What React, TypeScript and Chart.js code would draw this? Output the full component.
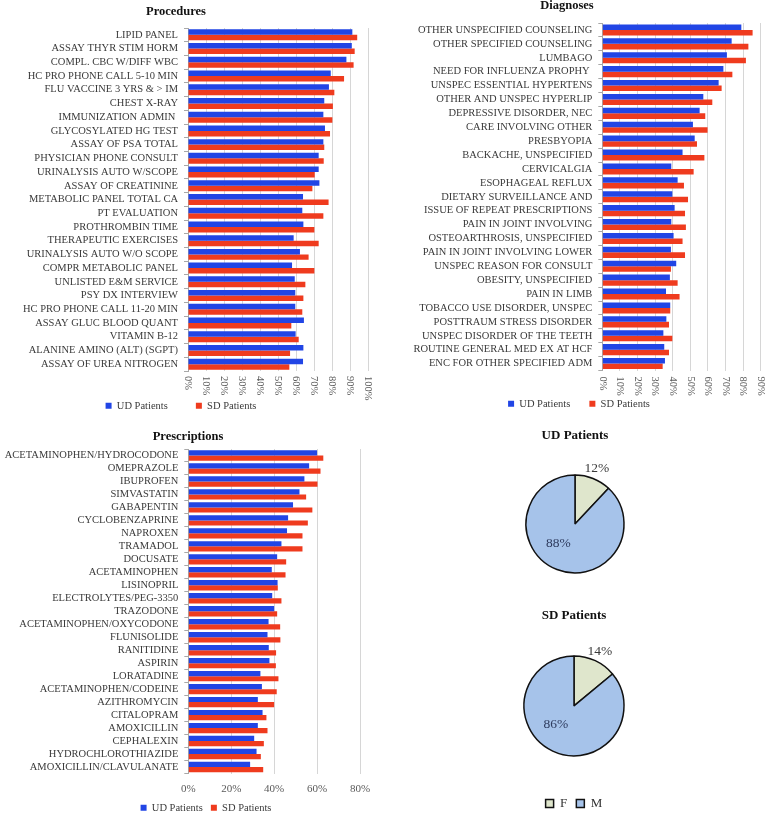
import React, { useEffect, useRef } from 'react';
import { Chart, registerables } from 'chart.js';

Chart.register(...registerables);

const FONT = "'Liberation Serif', 'Times New Roman', serif";
const UD_COLOR = '#2145e5';
const SD_COLOR = '#ef3b1e';
const GRID = '#d6d6d6';
const AXIS = '#a8a8a8';
const LABEL = '#3a3a3a';
const TICK = '#5a5a5a';

// ---------- Procedures ----------
const procCategories = [
  'LIPID PANEL', 'ASSAY THYR STIM HORM', 'COMPL. CBC W/DIFF WBC', 'HC PRO PHONE CALL 5-10 MIN',
  'FLU VACCINE 3 YRS & > IM', 'CHEST X-RAY', 'IMMUNIZATION ADMIN ', 'GLYCOSYLATED HG TEST',
  'ASSAY OF PSA TOTAL', 'PHYSICIAN PHONE CONSULT', 'URINALYSIS AUTO W/SCOPE', 'ASSAY OF CREATININE',
  'METABOLIC PANEL TOTAL CA', 'PT EVALUATION', 'PROTHROMBIN TIME', 'THERAPEUTIC EXERCISES',
  'URINALYSIS AUTO W/O SCOPE', 'COMPR METABOLIC PANEL', 'UNLISTED E&M SERVICE', 'PSY DX INTERVIEW',
  'HC PRO PHONE CALL 11-20 MIN', 'ASSAY GLUC BLOOD QUANT', 'VITAMIN B-12', 'ALANINE AMINO (ALT) (SGPT)',
  'ASSAY OF UREA NITROGEN',
];
const procUD = [91.3, 91, 88, 79.3, 78.3, 75.7, 75.2, 76.1, 75.2, 72.6, 72.6, 73, 63.9, 63.5, 64.1, 58.7, 62.2, 57.8, 59.3, 59.6, 59.6, 64.4, 59.8, 64.1, 63.9];
const procSD = [94, 92.6, 92, 86.7, 81.3, 80.5, 80.2, 78.9, 75.7, 75.4, 70.4, 69.1, 78.1, 75.2, 70.2, 72.6, 67, 70.2, 65.2, 64.1, 63.5, 57.4, 61.5, 56.7, 56.3];
const procAxisMax = 100;
const procAxisStep = 10;

// ---------- Diagnoses ----------
const diagCategories = [
  'OTHER UNSPECIFIED COUNSELING', 'OTHER SPECIFIED COUNSELING', 'LUMBAGO', 'NEED FOR INFLUENZA PROPHY ',
  'UNSPEC ESSENTIAL HYPERTENS', 'OTHER AND UNSPEC HYPERLIP', 'DEPRESSIVE DISORDER, NEC', 'CARE INVOLVING OTHER',
  'PRESBYOPIA', 'BACKACHE, UNSPECIFIED', 'CERVICALGIA', 'ESOPHAGEAL REFLUX', 'DIETARY SURVEILLANCE AND',
  'ISSUE OF REPEAT PRESCRIPTIONS', 'PAIN IN JOINT INVOLVING', 'OSTEOARTHROSIS, UNSPECIFIED',
  'PAIN IN JOINT INVOLVING LOWER', 'UNSPEC REASON FOR CONSULT', 'OBESITY, UNSPECIFIED', 'PAIN IN LIMB',
  'TOBACCO USE DISORDER, UNSPEC', 'POSTTRAUM STRESS DISORDER', 'UNSPEC DISORDER OF THE TEETH',
  'ROUTINE GENERAL MED EX AT HCF', 'ENC FOR OTHER SPECIFIED ADM',
];
const diagUD = [79, 73.5, 70.8, 68.8, 66.1, 57.4, 55.3, 51.5, 52.5, 45.6, 39.2, 42.8, 39.8, 41.1, 39.2, 40.5, 39, 42, 38.4, 36.2, 38.6, 36.4, 34.7, 35.2, 35.6];
const diagSD = [85.4, 83, 81.6, 73.9, 67.8, 62.5, 58.5, 59.8, 53.8, 58, 51.9, 46.4, 48.7, 47, 47.5, 45.6, 47, 39, 42.8, 43.9, 38.6, 37.9, 39.8, 37.9, 34.3];
const diagAxisMax = 90;
const diagAxisStep = 10;

// ---------- Prescriptions ----------
const rxCategories = [
  'ACETAMINOPHEN/HYDROCODONE', 'OMEPRAZOLE', 'IBUPROFEN', 'SIMVASTATIN', 'GABAPENTIN', 'CYCLOBENZAPRINE',
  'NAPROXEN', 'TRAMADOL', 'DOCUSATE', 'ACETAMINOPHEN', 'LISINOPRIL', 'ELECTROLYTES/PEG-3350', 'TRAZODONE',
  'ACETAMINOPHEN/OXYCODONE', 'FLUNISOLIDE', 'RANITIDINE', 'ASPIRIN', 'LORATADINE', 'ACETAMINOPHEN/CODEINE',
  'AZITHROMYCIN', 'CITALOPRAM', 'AMOXICILLIN', 'CEPHALEXIN', 'HYDROCHLOROTHIAZIDE', 'AMOXICILLIN/CLAVULANATE',
];
const rxUD = [60, 56.3, 54.1, 51.8, 48.8, 46.5, 46, 43.4, 41.4, 38.9, 41.6, 39.1, 40, 37.4, 36.9, 37.5, 37.8, 33.6, 34.3, 32.4, 34.6, 32.4, 30.7, 31.8, 28.8];
const rxSD = [62.9, 61.6, 60.2, 54.9, 57.8, 55.7, 53.2, 53.2, 45.6, 45.3, 41.7, 43.4, 41.4, 42.8, 42.9, 40.9, 40.8, 42, 41.2, 40, 36.4, 36.9, 35.2, 33.8, 34.9];
const rxAxisMax = 80;
const rxAxisStep = 20;

// ---------- Gender pies ----------
const genderLabels = ['F', 'M'];
const udGender = [12, 88];
const sdGender = [14, 86];
const genderColors = ['#dfe6cc', '#a6c3ea'];

const seriesNames = ['UD Patients', 'SD Patients'];

// Draws x tick labels (optionally rotated clockwise, reading top to bottom)
const xTickTextPlugin = {
  id: 'xTickText',
  afterDraw(chart: any, _args: any, opts: any) {
    const xs = chart.scales.x;
    const ctx = chart.ctx;
    const bottom = chart.chartArea.bottom;
    ctx.save();
    ctx.fillStyle = opts.color || TICK;
    ctx.font = `${opts.size || 10.5}px ${FONT}`;
    xs.ticks.forEach((t: any) => {
      const px = xs.getPixelForValue(t.value);
      const text = `${t.value}%`;
      if (opts.rotate) {
        ctx.save();
        ctx.translate(px, bottom + opts.gap);
        ctx.rotate(Math.PI / 2);
        ctx.textAlign = 'left';
        ctx.textBaseline = 'middle';
        ctx.fillText(text, 0, 0);
        ctx.restore();
      } else {
        ctx.textAlign = 'center';
        ctx.textBaseline = 'middle';
        ctx.fillText(text, px, bottom + opts.gap);
      }
    });
    ctx.restore();
  },
};

const pieLabelPlugin = {
  id: 'pieLabels',
  afterDatasetsDraw(chart: any, _args: any, opts: any) {
    const meta = chart.getDatasetMeta(0);
    const data = chart.data.datasets[0].data;
    const ctx = chart.ctx;
    ctx.save();
    ctx.font = `${opts.size}px ${FONT}`;
    ctx.textAlign = 'center';
    ctx.textBaseline = 'middle';
    meta.data.forEach((arc: any, i: number) => {
      const p = arc.getProps(['x', 'y', 'startAngle', 'endAngle', 'outerRadius']);
      const mid = (p.startAngle + p.endAngle) / 2;
      let ang = mid;
      let dist = p.outerRadius + opts.outsideGap;
      if (!opts.outside[i]) {
        ang = mid + opts.insideShift;
        dist = p.outerRadius * opts.insideRatio;
      }
      ctx.fillStyle = opts.colors[i];
      ctx.fillText(`${data[i]}%`, p.x + Math.cos(ang) * dist, p.y + Math.sin(ang) * dist);
    });
    ctx.restore();
  },
};

type BarSpec = {
  left: number; top: number; width: number; height: number;
  pad: { left: number; right: number; top: number; bottom: number };
  yWidth: number; rightWidth: number; xHeight: number; legendPad: number;
  labels: string[]; ud: number[]; sd: number[];
  max: number; step: number; rotate: boolean; tickGap: number; tickSize: number;
};

function BarPanel({ spec }: { spec: BarSpec }) {
  const ref = useRef<HTMLCanvasElement>(null);
  useEffect(() => {
    const scales: any = {
      x: {
        type: 'linear',
        min: 0,
        max: spec.max,
        ticks: { display: false, stepSize: spec.step },
        grid: { color: GRID, drawTicks: false },
        border: { display: false },
        afterFit: (s: any) => { s.height = spec.xHeight; },
      },
      y: {
        ticks: { autoSkip: false, padding: 6, color: LABEL, font: { family: FONT, size: 10.5 } },
        grid: { drawOnChartArea: false, tickLength: 4, color: AXIS },
        border: { display: true, color: AXIS },
        afterFit: (s: any) => { s.width = spec.yWidth; },
      },
    };
    if (spec.rightWidth > 0) {
      // empty spacer axis on the right so the legend is centred where the original has it
      scales.spacer = {
        type: 'category',
        axis: 'y',
        position: 'right',
        labels: spec.labels,
        ticks: { display: false },
        grid: { display: false },
        border: { display: false },
        afterFit: (s: any) => { s.width = spec.rightWidth; },
      };
    }
    const chart = new Chart(ref.current as HTMLCanvasElement, {
      type: 'bar',
      data: {
        labels: spec.labels,
        datasets: [
          { label: seriesNames[0], data: spec.ud, backgroundColor: UD_COLOR, categoryPercentage: 0.8, barPercentage: 1, yAxisID: 'y' },
          { label: seriesNames[1], data: spec.sd, backgroundColor: SD_COLOR, categoryPercentage: 0.8, barPercentage: 1, yAxisID: 'y' },
        ],
      },
      options: {
        indexAxis: 'y',
        responsive: false,
        maintainAspectRatio: false,
        animation: false,
        devicePixelRatio: 1,
        layout: { padding: spec.pad },
        scales,
        plugins: {
          legend: {
            position: 'bottom',
            labels: {
              boxWidth: 6, boxHeight: 6, padding: spec.legendPad, color: LABEL,
              font: { family: FONT, size: 10.5 },
            },
          },
          tooltip: { enabled: false },
          xTickText: { rotate: spec.rotate, gap: spec.tickGap, size: spec.tickSize },
        } as any,
      },
      plugins: [xTickTextPlugin],
    });
    return () => chart.destroy();
  }, []);
  return (
    <canvas
      ref={ref}
      width={spec.width}
      height={spec.height}
      style={{ position: 'absolute', left: spec.left, top: spec.top, width: spec.width, height: spec.height }}
    />
  );
}

type PieSpec = {
  left: number; top: number; width: number; height: number;
  pad: { left: number; right: number; top: number; bottom: number };
  title: string; titlePad: { top: number; bottom: number };
  values: number[]; showLegend: boolean; legendPad: number;
  labelColors: string[];
};

function PiePanel({ spec }: { spec: PieSpec }) {
  const ref = useRef<HTMLCanvasElement>(null);
  useEffect(() => {
    const chart = new Chart(ref.current as HTMLCanvasElement, {
      type: 'pie',
      data: {
        labels: genderLabels,
        datasets: [{ data: spec.values, backgroundColor: genderColors, borderColor: '#111111', borderWidth: 1.5 }],
      },
      options: {
        responsive: false,
        maintainAspectRatio: false,
        animation: false,
        devicePixelRatio: 1,
        layout: { padding: spec.pad },
        plugins: {
          title: {
            display: true,
            text: spec.title,
            color: '#111111',
            font: { family: FONT, size: 13, weight: 'bold' },
            padding: spec.titlePad,
          },
          legend: {
            display: spec.showLegend,
            position: 'bottom',
            labels: {
              boxWidth: 8, boxHeight: 8, padding: spec.legendPad, color: '#333333',
              font: { family: FONT, size: 13 },
            },
          },
          tooltip: { enabled: false },
          pieLabels: {
            size: 13.5, outside: [true, false], outsideGap: 10.5, insideShift: 0.33, insideRatio: 0.52,
            colors: spec.labelColors,
          },
        } as any,
      },
      plugins: [pieLabelPlugin],
    });
    return () => chart.destroy();
  }, []);
  return (
    <canvas
      ref={ref}
      width={spec.width}
      height={spec.height}
      style={{ position: 'absolute', left: spec.left, top: spec.top, width: spec.width, height: spec.height }}
    />
  );
}

const procSpec: BarSpec = {
  left: -6, top: 0, width: 382, height: 421,
  pad: { left: 0, right: 8, top: 28, bottom: 0 },
  yWidth: 194, rightWidth: 0, xHeight: 1.5, legendPad: 28,
  labels: procCategories, ud: procUD, sd: procSD,
  max: procAxisMax, step: procAxisStep, rotate: true, tickGap: 5, tickSize: 10.5,
};

const diagSpec: BarSpec = {
  left: 384, top: 0, width: 383, height: 419,
  pad: { left: 13.3, right: 6.3, top: 23, bottom: 0 },
  yWidth: 205, rightWidth: 0, xHeight: 9, legendPad: 19,
  labels: diagCategories, ud: diagUD, sd: diagSD,
  max: diagAxisMax, step: diagAxisStep, rotate: true, tickGap: 6, tickSize: 10.5,
};

const rxSpec: BarSpec = {
  left: 0, top: 420, width: 420, height: 403,
  pad: { left: 0, right: 8, top: 29, bottom: 0 },
  yWidth: 188.3, rightWidth: 52, xHeight: 21, legendPad: 8,
  labels: rxCategories, ud: rxUD, sd: rxSD,
  max: rxAxisMax, step: rxAxisStep, rotate: false, tickGap: 15.5, tickSize: 11,
};

const udPieSpec: PieSpec = {
  left: 475, top: 420, width: 200, height: 170,
  pad: { left: 0, right: 0, top: 0, bottom: 16.25 },
  title: 'UD Patients', titlePad: { top: 8, bottom: 30.65 },
  values: udGender, showLegend: false, legendPad: 9,
  labelColors: ['#3a3a3a', '#2e3b5e'],
};

const sdPieSpec: PieSpec = {
  left: 474, top: 600, width: 200, height: 220,
  pad: { left: 49.25, right: 49.25, top: 0, bottom: 0 },
  title: 'SD Patients', titlePad: { top: 8.2, bottom: 0 },
  values: sdGender, showLegend: true, legendPad: 9,
  labelColors: ['#3a3a3a', '#2e3b5e'],
};

function Title({ text, x, y }: { text: string; x: number; y: number }) {
  return (
    <div
      style={{
        position: 'absolute', left: x, top: y - 7, transform: 'translateX(-50%)',
        whiteSpace: 'nowrap', fontFamily: FONT, fontWeight: 'bold', fontSize: 12.5,
        lineHeight: '14px', color: '#111111',
      }}
    >
      {text}
    </div>
  );
}

export default function App() {
  return (
    <div
      style={{
        position: 'absolute', left: 0, top: 0, width: 768, height: 814,
        overflow: 'hidden', background: '#ffffff',
      }}
    >
      <BarPanel spec={procSpec} />
      <BarPanel spec={diagSpec} />
      <BarPanel spec={rxSpec} />
      <PiePanel spec={udPieSpec} />
      <PiePanel spec={sdPieSpec} />
      <Title text="Procedures" x={176} y={11} />
      <Title text="Diagnoses" x={567} y={5} />
      <Title text="Prescriptions" x={188} y={436} />
    </div>
  );
}
